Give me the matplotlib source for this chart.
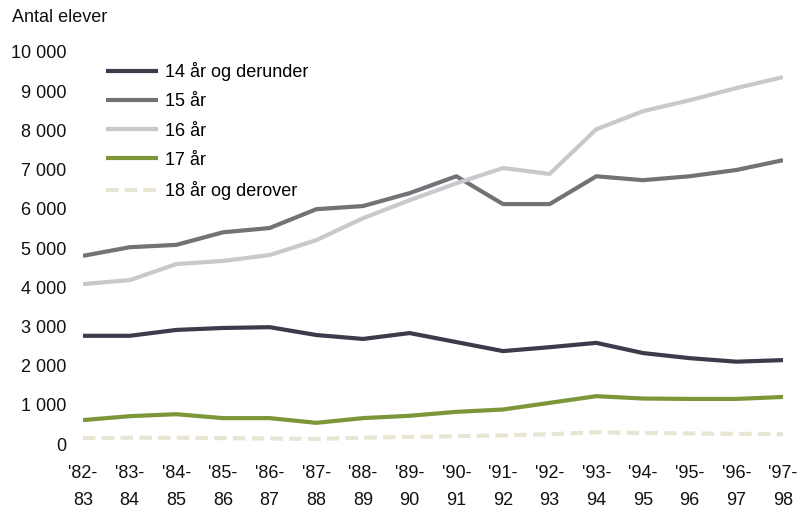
import matplotlib.pyplot as plt
from matplotlib.ticker import FuncFormatter

plt.rcParams['font.family'] = ['Liberation Sans', 'DejaVu Sans']

# Skoleår
aar = ["'82-\n83", "'83-\n84", "'84-\n85", "'85-\n86", "'86-\n87", "'87-\n88",
       "'88-\n89", "'89-\n90", "'90-\n91", "'91-\n92", "'92-\n93", "'93-\n94",
       "'94-\n95", "'95-\n96", "'96-\n97", "'97-\n98"]

# Antal elever pr. aldersgruppe
under14 = [2760, 2760, 2910, 2960, 2980, 2780, 2680, 2830, 2600, 2370,
           2470, 2580, 2320, 2190, 2100, 2140]
aar15 = [4800, 5020, 5080, 5400, 5510, 5990, 6070, 6400, 6830, 6120,
         6120, 6830, 6730, 6830, 6990, 7240]
aar16 = [4080, 4180, 4590, 4670, 4820, 5200, 5760, 6220, 6650, 7040,
         6890, 8030, 8490, 8770, 9080, 9360]
aar17 = [610, 710, 760, 660, 660, 540, 660, 720, 820, 880,
         1050, 1220, 1160, 1150, 1150, 1200]
over18 = [150, 160, 160, 150, 140, 130, 160, 180, 200, 220,
          250, 300, 280, 270, 260, 250]

fs = 13

fig = plt.figure(figsize=(8, 5.11), dpi=100)
ax = fig.add_axes([83 / 800, 67 / 511, 700 / 800, 392 / 511])

x = range(len(aar))
lw = 3
ax.plot(x, under14, color='#3b3b4c', lw=lw, label='14 år og derunder', solid_capstyle='butt')
ax.plot(x, aar15, color='#727277', lw=lw, label='15 år', solid_capstyle='butt')
ax.plot(x, aar16, color='#c9c9cd', lw=lw, label='16 år', solid_capstyle='butt')
ax.plot(x, aar17, color='#7d963a', lw=lw, label='17 år', solid_capstyle='butt')
ax.plot(x, over18, color='#e8e5d2', lw=lw, ls=(0, (3, 1.5)), label='18 år og derover')

ax.set_xlim(0, 15)
ax.set_ylim(0, 10000)
ax.set_yticks(range(0, 10001, 1000))
ax.yaxis.set_major_formatter(FuncFormatter(lambda v, p: f"{int(v):,}".replace(",", " ")))
ax.set_xticks(list(x))
ax.set_xticklabels(aar, linespacing=1.8)
ax.tick_params(axis='both', length=0, labelsize=fs, colors='#111111')
ax.tick_params(axis='y', pad=12)
ax.tick_params(axis='x', pad=15)
for s in ax.spines.values():
    s.set_visible(False)

fig.text(12 / 800, 1 - 18 / 511, 'Antal elever', fontsize=fs, va='center', ha='left', color='#111111')

leg = ax.legend(loc='upper left', bbox_to_anchor=(0.022, 0.993), frameon=False,
                fontsize=fs, handlelength=2.9, handletextpad=0.4,
                labelspacing=0.68, borderaxespad=0)

fig.savefig('out.png', dpi=100)
